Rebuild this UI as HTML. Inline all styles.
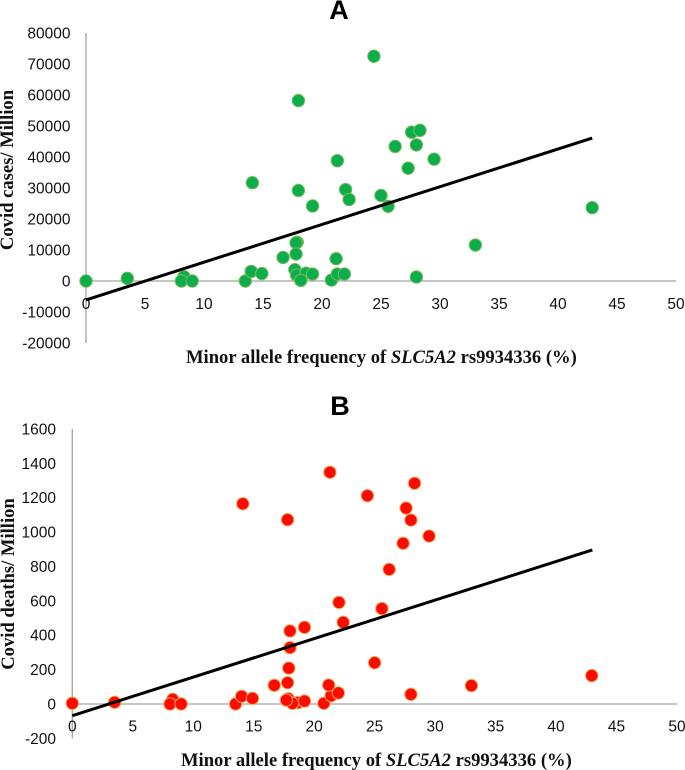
<!DOCTYPE html>
<html lang="en">
<head>
<meta charset="utf-8">
<title>Covid cases and deaths vs SLC5A2 rs9934336 allele frequency</title>
<style>
html,body{margin:0;padding:0;background:#fff;width:685px;height:770px;overflow:hidden}
svg{display:block;filter:blur(0.35px)}
.tick{font-family:"Liberation Sans",sans-serif;font-size:15.5px;fill:#111}
.axis-title{font-family:"Liberation Serif",serif;font-size:18.6px;font-weight:bold;fill:#111}
.panel{font-family:"Liberation Sans",sans-serif;font-size:27px;font-weight:bold;fill:#000}
</style>
</head>
<body>
<svg id="figure" xmlns="http://www.w3.org/2000/svg" width="685" height="770" viewBox="0 0 685 770">
  <rect width="685" height="770" fill="#ffffff"/>
  <g id="chart-a"></g>
  <g id="chart-b"></g>
  <text class="panel" x="339" y="19" text-anchor="middle">A</text>
  <text class="panel" x="340" y="415" text-anchor="middle">B</text>
  <text class="axis-title" x="186" y="363">Minor allele frequency of <tspan font-style="italic">SLC5A2</tspan> rs9934336 (%)</text>
  <text class="axis-title" x="181" y="766">Minor allele frequency of <tspan font-style="italic">SLC5A2</tspan> rs9934336 (%)</text>
  <text class="axis-title" transform="translate(13,170) rotate(-90)" text-anchor="middle">Covid cases/ Million</text>
  <text class="axis-title" transform="translate(14,584) rotate(-90)" text-anchor="middle">Covid deaths/ Million</text>
</svg>
<script>
var xTicks = [0, 5, 10, 15, 20, 25, 30, 35, 40, 45, 50];

var casesTicks = [-20000, -10000, 0, 10000, 20000, 30000, 40000, 50000, 60000, 70000, 80000];
var casesFreq = [0, 3.5, 8.3, 8.08, 9.0, 13.5, 14.0, 14.9, 14.1, 16.7, 17.9, 17.8, 17.8, 17.7, 17.85, 18.65, 19.2, 18.2, 18.0, 18.0, 19.2, 20.8, 21.3, 21.2, 21.3, 21.9, 22.0, 22.3, 24.4, 27.6, 28.3, 28.0, 26.2, 27.3, 29.5, 25.0, 25.6, 42.9, 33.0, 28.0];
var casesValues = [0, 860, 1400, 0, 0, 0, 3100, 2400, 31700, 7600, 12500, 12300, 8700, 3650, 1900, 2500, 2250, 200, 29200, 58200, 24200, 300, 38800, 7200, 2250, 2250, 29500, 26300, 72500, 48000, 48600, 43900, 43400, 36400, 39300, 27600, 24100, 23650, 11600, 1300];
var casesTrendFreq = [0, 42.9];
var casesTrendValues = [-6100, 46100];

var deathsTicks = [-200, 0, 200, 400, 600, 800, 1000, 1200, 1400, 1600];
var deathsFreq = [0, 3.5, 8.3, 8.08, 9.0, 13.5, 14.0, 14.9, 14.1, 16.7, 17.8, 17.9, 18.0, 18.0, 17.8, 17.85, 18.65, 18.2, 17.7, 19.2, 19.2, 20.8, 21.3, 21.4, 21.2, 22.0, 22.05, 22.4, 24.4, 28.3, 27.6, 28.0, 29.5, 27.35, 26.2, 25.6, 25.0, 28.0, 33.0, 42.95];
var deathsValues = [4, 10, 27, 0, 0, 0, 45, 33, 1165, 109, 124, 209, 328, 425, 1072, 31, 8, 4, 23, 17, 446, 4, 1348, 48, 110, 64, 591, 475, 1212, 1284, 1140, 1070, 977, 935, 783, 555, 240, 56, 107, 165];
var deathsTrendFreq = [0, 43];
var deathsTrendValues = [-68, 896];

var SVGNS = 'http://www.w3.org/2000/svg';

function make(parent, tag, attrs) {
  var el = document.createElementNS(SVGNS, tag);
  for (var k in attrs) el.setAttribute(k, attrs[k]);
  parent.appendChild(el);
  return el;
}

function drawChart(cfg) {
  var g = document.getElementById(cfg.id);
  function sx(v) { return cfg.x0 + (v - 0) * (cfg.x1 - cfg.x0) / 50; }
  function sy(v) { return cfg.yZero - v * cfg.yPerUnit; }
  var minY = cfg.yTicks[0];
  var maxY = cfg.yTicks[cfg.yTicks.length - 1];

  var yAxis = make(g, 'line', { x1: sx(0), x2: sx(0), y1: sy(maxY), y2: sy(minY), stroke: '#a3a3a3', 'stroke-width': 1.3 });
  
  
  var xAxis = make(g, 'line', { x1: sx(0), x2: sx(50), y1: sy(0), y2: sy(0), stroke: '#a3a3a3', 'stroke-width': 1.3 });
  
  

  cfg.yTicks.forEach(function (t) {
    var el = make(g, 'text', { x: cfg.yLabelX, y: sy(t) + 5.5, 'text-anchor': 'end', 'class': 'tick' });
    
    
    el.textContent = String(t);
  });
  xTicks.forEach(function (t) {
    var el = make(g, 'text', { x: sx(t), y: sy(0) + cfg.xLabelDy, 'text-anchor': 'middle', 'class': 'tick' });
    
    
    el.textContent = String(t);
  });

  cfg.freq.forEach(function (f, i) {
    var c = make(g, 'circle', { cx: sx(f), cy: sy(cfg.values[i]), r: 6.2, fill: cfg.fill, stroke: cfg.edge, 'stroke-width': 1 });
    
    
  });

  var trend = make(g, 'line', {
    x1: sx(cfg.trendFreq[0]), y1: sy(cfg.trendValues[0]),
    x2: sx(cfg.trendFreq[1]), y2: sy(cfg.trendValues[1]),
    stroke: '#000', 'stroke-width': 3
  });
  
  
}

drawChart({
  id: 'chart-a', x0: 86, x1: 676, yZero: 281, yPerUnit: 0.0031, yLabelX: 70.5, xLabelDy: 28,
  yTicks: casesTicks, freq: casesFreq, values: casesValues,
  trendFreq: casesTrendFreq, trendValues: casesTrendValues,
  fill: '#0cae4c', edge: '#79b95a'
});
drawChart({
  id: 'chart-b', x0: 72.3, x1: 677, yZero: 704, yPerUnit: 0.1719, yLabelX: 56, xLabelDy: 27.5,
  yTicks: deathsTicks, freq: deathsFreq, values: deathsValues,
  trendFreq: deathsTrendFreq, trendValues: deathsTrendValues,
  fill: '#fb0b00', edge: '#f2a65e'
});
</script>
</body>
</html>
